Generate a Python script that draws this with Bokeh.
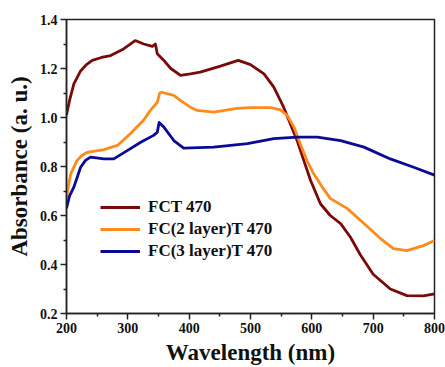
from bokeh.plotting import figure
from bokeh.models import Legend, LegendItem, FixedTicker, Range1d, CustomJSTickFormatter
from bokeh.embed import file_html
from bokeh.resources import INLINE

# ---- data ----
wl_fct = [200, 205, 212, 223, 232, 242, 257, 272, 293, 312, 326, 340, 345, 348, 358, 370,
          386, 402, 418, 451, 480, 500, 522, 538, 554, 565, 576, 587, 598, 614, 630,
          647, 663, 679, 700, 728, 755, 782, 800]
abs_fct = [1.01, 1.07, 1.137, 1.19, 1.215, 1.233, 1.245, 1.253, 1.28, 1.314, 1.30, 1.29,
           1.300, 1.26, 1.235, 1.20, 1.172, 1.178, 1.185, 1.21, 1.233, 1.216, 1.178,
           1.124, 1.042, 0.974, 0.906, 0.824, 0.743, 0.648, 0.60, 0.567, 0.511, 0.44,
           0.36, 0.30, 0.273, 0.272, 0.28]

wl_fc2 = [200, 203, 207, 217, 225, 234, 261, 283, 304, 326, 337, 348, 352, 355, 375, 386,
          402, 413, 440, 478, 500, 533, 549, 560, 571, 581, 592, 603, 617, 630, 658,
          685, 712, 733, 755, 782, 800]
abs_fc2 = [0.67, 0.72, 0.77, 0.824, 0.845, 0.858, 0.869, 0.886, 0.934, 0.99, 1.03, 1.062,
           1.10, 1.103, 1.09, 1.069, 1.042, 1.029, 1.022, 1.037, 1.04, 1.04, 1.031,
           1.008, 0.96, 0.893, 0.824, 0.77, 0.716, 0.67, 0.628, 0.567, 0.506, 0.465,
           0.457, 0.477, 0.498]

wl_fc3 = [200, 205, 212, 223, 231, 239, 261, 277, 299, 321, 342, 348, 351, 359, 375, 391,
          440, 495, 538, 576, 609, 647, 685, 728, 766, 800]
abs_fc3 = [0.63, 0.68, 0.716, 0.797, 0.825, 0.838, 0.831, 0.831, 0.865, 0.899, 0.927,
           0.94, 0.98, 0.96, 0.906, 0.875, 0.879, 0.893, 0.914, 0.92, 0.92, 0.906,
           0.879, 0.831, 0.797, 0.765]

series_names = ["FCT 470", "FC(2 layer)T 470", "FC(3 layer)T 470"]
series_colors = ["#7A0A0A", "#FF8A1C", "#0A0A96"]

x_ticks = [200, 300, 400, 500, 600, 700, 800]
x_minor = [250, 350, 450, 550, 650, 750]
y_ticks = [0.2, 0.4, 0.6, 0.8, 1.0, 1.2, 1.4]
y_minor = [0.3, 0.5, 0.7, 0.9, 1.1, 1.3]

FONT = "Liberation Serif"

p = figure(width=445, height=367, output_backend="svg", toolbar_location=None,
           x_range=Range1d(200, 800), y_range=Range1d(0.2, 1.4),
           min_border_left=66, min_border_right=11, min_border_top=19,
           min_border_bottom=54)
p.background_fill_color = "white"
p.border_fill_color = "white"
p.outline_line_color = "#222222"
p.outline_line_width = 1.5
p.grid.visible = False

renderers = []
for wl, ab, c in zip([wl_fct, wl_fc2, wl_fc3], [abs_fct, abs_fc2, abs_fc3], series_colors):
    renderers.append(p.line(wl, ab, line_color=c, line_width=2.8, line_join="round"))

p.xaxis.ticker = FixedTicker(ticks=x_ticks, minor_ticks=x_minor)
p.yaxis.ticker = FixedTicker(ticks=y_ticks, minor_ticks=y_minor)
p.yaxis.formatter = CustomJSTickFormatter(code="return tick.toFixed(1);")

for ax in (p.xaxis[0], p.yaxis[0]):
    ax.axis_line_color = "#222222"
    ax.axis_line_width = 1.5
    ax.major_tick_line_color = "#222222"
    ax.major_tick_line_width = 1.5
    ax.minor_tick_line_color = "#222222"
    ax.minor_tick_line_width = 1.5
    ax.major_tick_out = 6
    ax.major_tick_in = 0
    ax.minor_tick_out = 3
    ax.minor_tick_in = 0
    ax.major_label_text_font = FONT
    ax.major_label_text_font_style = "bold"
    ax.major_label_text_font_size = "14px"
    ax.major_label_text_color = "#111111"
    ax.axis_label_text_font = FONT
    ax.axis_label_text_font_style = "bold"
    ax.axis_label_text_font_size = "23px"
    ax.axis_label_text_color = "#111111"

p.xaxis.axis_label = "Wavelength (nm)"
p.yaxis.axis_label = "Absorbance (a. u.)"
p.xaxis.major_label_standoff = 3
p.xaxis.axis_label_standoff = 4
p.yaxis.major_label_standoff = 3
p.yaxis.axis_label_standoff = 5

legend = Legend(items=[LegendItem(label=n, renderers=[r]) for n, r in zip(series_names, renderers)],
                location=(34, 52), padding=0, margin=0, spacing=2,
                glyph_width=40, glyph_height=18, label_height=18, label_standoff=8,
                border_line_alpha=0, background_fill_color="white", background_fill_alpha=1,
                label_text_font=FONT, label_text_font_style="bold",
                label_text_font_size="17px", label_text_color="#111111")
p.add_layout(legend)

open("out.html", "w").write(file_html(p, INLINE))
